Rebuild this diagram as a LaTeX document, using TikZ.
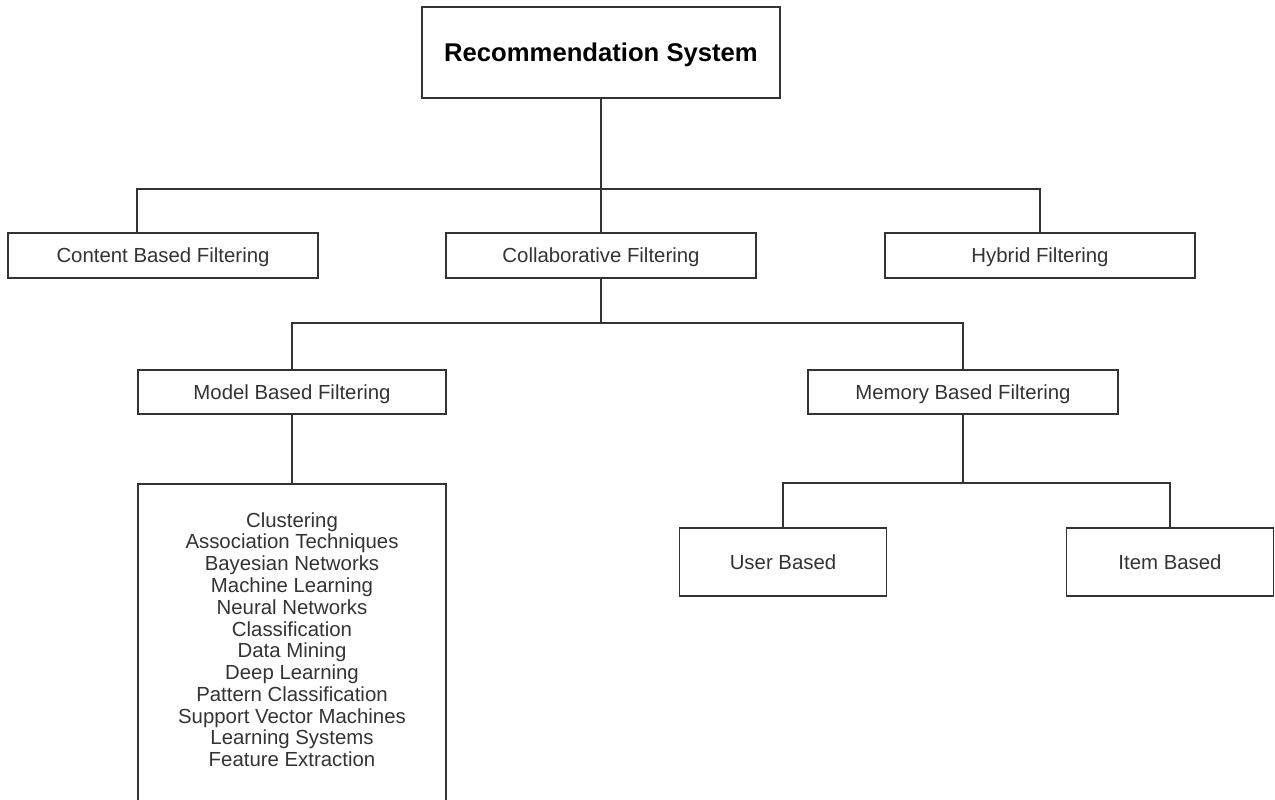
\documentclass[tikz,border=0pt]{standalone}
\usepackage{fontspec}
\setmainfont{Liberation Sans}
\usetikzlibrary{positioning}
\definecolor{lineGray}{HTML}{333333}
\definecolor{textGray}{HTML}{333333}
\tikzset{
  every node/.style={font=\fontsize{11.6}{12.4}\selectfont, text=textGray},
  link/.style={draw=lineGray, line width=1.1pt},
  box/.style={draw=lineGray, line width=1.1pt, inner sep=0pt, text depth=0pt, minimum width=6.2cm, minimum height=0.9cm},
  topbox/.style={box, minimum width=7.16cm, minimum height=1.82cm, font=\bfseries\fontsize{14.6}{16}\selectfont, text=black},
  leafbox/.style={box, minimum width=4.14cm, minimum height=1.36cm},
}

\begin{document}
\begin{tikzpicture}[x=0.02cm, y=-0.02cm]
  \useasboundingbox (0,0) rectangle (1275,799);
  \clip (0,0) rectangle (1275,799);
  % levels of the tree
  \node[topbox] (root) at (601,52.5) {Recommendation System};
  \node[box] (content) at (163,255.5) {Content Based Filtering};
  \node[box] (collab) at (601,255.5) {Collaborative Filtering};
  \node[box] (hybrid) at (1040,255.5) {Hybrid Filtering};
  \node[box, minimum width=6.16cm, minimum height=0.88cm] (model) at (292,392) {Model Based Filtering};
  \node[box, minimum height=0.88cm] (memory) at (963,392) {Memory Based Filtering};
  \node[leafbox] (user) at (783,562) {User Based};
  \node[leafbox] (item) at (1170,562) {Item Based};
  % techniques list runs off the page
  \node[box, anchor=north, minimum width=6.16cm, minimum height=7cm] (tech) at (292,483) {};
  \node[align=center, inner sep=0pt, anchor=north, below=0.58cm of tech.north] (techlist)
    {Clustering\\Association Techniques\\Bayesian Networks\\Machine Learning\\Neural Networks\\Classification\\Data Mining\\Deep Learning\\Pattern Classification\\Support Vector Machines\\Learning Systems\\Feature Extraction};
  % buses
  \coordinate (busTop) at (0,189);
  \coordinate (busMid) at (0,323);
  \coordinate (busLow) at (0,483);
  \draw[link] (root) -- (collab);
  \draw[link] ([xshift=-0.52cm]content.north) |- (hybrid.north |- busTop) -- (hybrid.north);
  \draw[link] (collab.south) -- (collab.south |- busMid);
  \draw[link] (model.north) |- (memory.north |- busMid) -- (memory.north);
  \draw[link] (model) -- (tech);
  \draw[link] (memory.south) -- (memory.south |- busLow);
  \draw[link] (user.north) |- (item.north |- busLow) -- (item.north);
\end{tikzpicture}
\end{document}
